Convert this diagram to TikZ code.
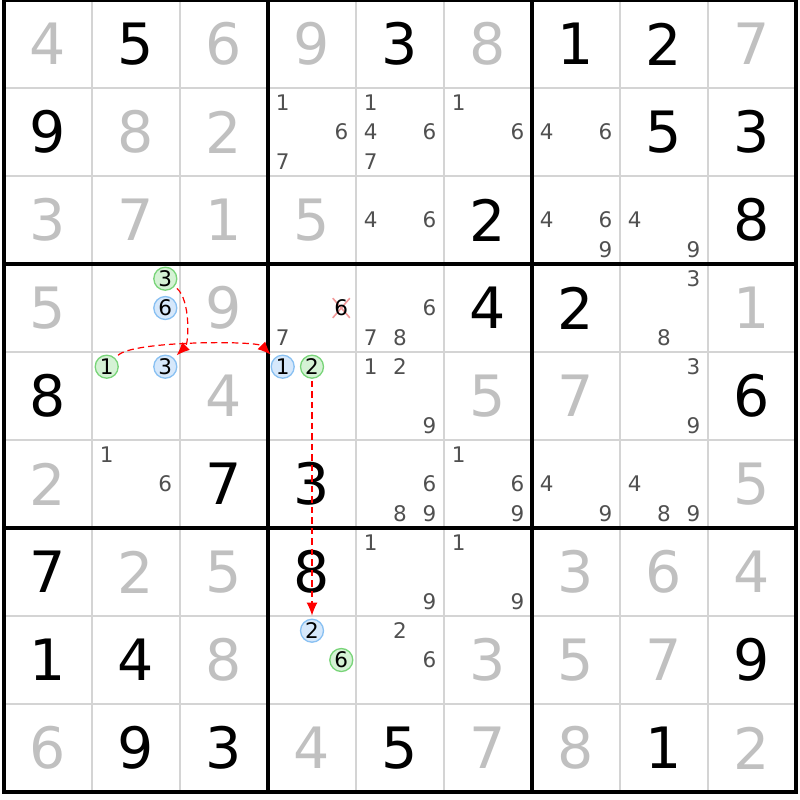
\documentclass[tikz,border=0pt]{standalone}
\usepackage{fontspec}
\setmainfont{DejaVu Sans}
\usepackage{tikz}
\usetikzlibrary{arrows.meta,backgrounds}

\definecolor{solvedgray}{HTML}{C0C0C0}
\definecolor{candgray}{HTML}{505050}
\definecolor{gridgray}{HTML}{D4D4D4}
\definecolor{greenfill}{HTML}{D5F2D5}
\definecolor{greenline}{HTML}{78D478}
\definecolor{bluefill}{HTML}{D6E8FB}
\definecolor{blueline}{HTML}{88C0F2}
\definecolor{crosspink}{HTML}{F29A9A}

\begin{document}
\begin{tikzpicture}[x=1pt, y=1pt,
    given/.style={inner sep=0, font=\fontsize{57}{57}\selectfont, text=black},
    solved/.style={given, text=solvedgray},
    cand/.style={inner sep=0, font=\fontsize{21.5}{21.5}\selectfont, text=candgray},
    greencand/.style={circle, draw=greenline, fill=greenfill, line width=1.3pt, minimum size=23pt, inner sep=0, font=\fontsize{21.5}{21.5}\selectfont},
    bluecand/.style={greencand, draw=blueline, fill=bluefill},
    link/.style={-{Latex[length=13pt,width=11pt]}, red, line width=1.2pt, dash pattern=on 6.5pt off 4pt}
]
\useasboundingbox (0,-800) rectangle (800,0);

% Grid lines
\foreach \k in {1,...,8} {
  \draw[gridgray, line width=1.6pt] ({4+88*\k},0) -- ({4+88*\k},-792);
  \draw[gridgray, line width=1.6pt] (4,{-88*\k}) -- (796,{-88*\k});
}
\foreach \k in {3,6} {
  \draw[line width=3.5pt] ({4+88*\k},0) -- ({4+88*\k},-792);
  \draw[line width=3.5pt] (4,{-88*\k}) -- (796,{-88*\k});
}
\draw[line width=3.5pt] (4,0) rectangle (796,-792);

% Given digits
\foreach \row/\col/\dig in {0/1/5, 0/4/3, 0/6/1, 0/7/2, 1/0/9, 1/7/5, 1/8/3, 2/5/2, 2/8/8, 3/5/4, 3/6/2, 4/0/8, 4/8/6, 5/2/7, 5/3/3, 6/0/7, 6/3/8, 7/0/1, 7/1/4, 7/8/9, 8/1/9, 8/2/3, 8/4/5, 8/7/1}
  \node[given] (d-\row-\col) at ({48+88*\col},{-44-88*\row}) {\dig};

% Solved digits
\foreach \row/\col/\dig in {0/0/4, 0/2/6, 0/3/9, 0/5/8, 0/8/7, 1/1/8, 1/2/2, 2/0/3, 2/1/7, 2/2/1, 2/3/5, 3/0/5, 3/2/9, 3/8/1, 4/2/4, 4/5/5, 4/6/7, 5/0/2, 5/8/5, 6/1/2, 6/2/5, 6/6/3, 6/7/6, 6/8/4, 7/2/8, 7/5/3, 7/6/5, 7/7/7, 8/0/6, 8/3/4, 8/5/7, 8/6/8, 8/8/2}
  \node[solved] (d-\row-\col) at ({48+88*\col},{-44-88*\row}) {\dig};

% Candidates
\foreach \row/\col/\dig in {1/3/1, 1/3/6, 1/3/7, 1/4/1, 1/4/4, 1/4/6, 1/4/7, 1/5/1, 1/5/6, 1/6/4, 1/6/6, 2/4/4, 2/4/6, 2/6/4, 2/6/6, 2/6/9, 2/7/4, 2/7/9, 3/3/7, 3/4/6, 3/4/7, 3/4/8, 3/7/3, 3/7/8, 4/4/1, 4/4/2, 4/4/9, 4/7/3, 4/7/9, 5/1/1, 5/1/6, 5/4/6, 5/4/8, 5/4/9, 5/5/1, 5/5/6, 5/5/9, 5/6/4, 5/6/9, 5/7/4, 5/7/8, 5/7/9, 6/4/1, 6/4/9, 6/5/1, 6/5/9, 7/4/2, 7/4/6}
  \node[cand] (c-\row-\col-\dig) at ({4+88*\col+14.667*(2*mod(\dig-1,3)+1)},{-88*\row-14.667*(2*floor((\dig-1)/3)+1)}) {\dig};

% Eliminated candidate
\node[cand, text=black, inner sep=1.5pt] (x6) at (341.3,-308) {6};
\begin{scope}[on background layer]
  \draw[crosspink, line width=1.6pt] (x6.north west) -- (x6.south east) (x6.south west) -- (x6.north east);
\end{scope}

% Chain candidates
\node[greencand] (g3) at (165.3,-278.7) {3};
\node[bluecand] (b6) at (165.3,-308) {6};
\node[greencand] (g1) at (106.7,-366.7) {1};
\node[bluecand] (b3) at (165.3,-366.7) {3};
\node[bluecand] (b1) at (282.7,-366.7) {1};
\node[greencand] (g2) at (312,-366.7) {2};
\node[bluecand] (b2) at (312,-630.7) {2};
\node[greencand] (g6) at (341.3,-660) {6};

% Links
\draw[link, shorten <=3pt, shorten >=4pt] (g3) to[out=-40, in=45, looseness=0.75] (b3);
\draw[link, shorten <=4pt, shorten >=5pt] (g1) to[out=45, in=135, looseness=0.4] (b1);
\draw[link, shorten <=2pt, shorten >=3pt] (g2) -- (b2);
\end{tikzpicture}
\end{document}
